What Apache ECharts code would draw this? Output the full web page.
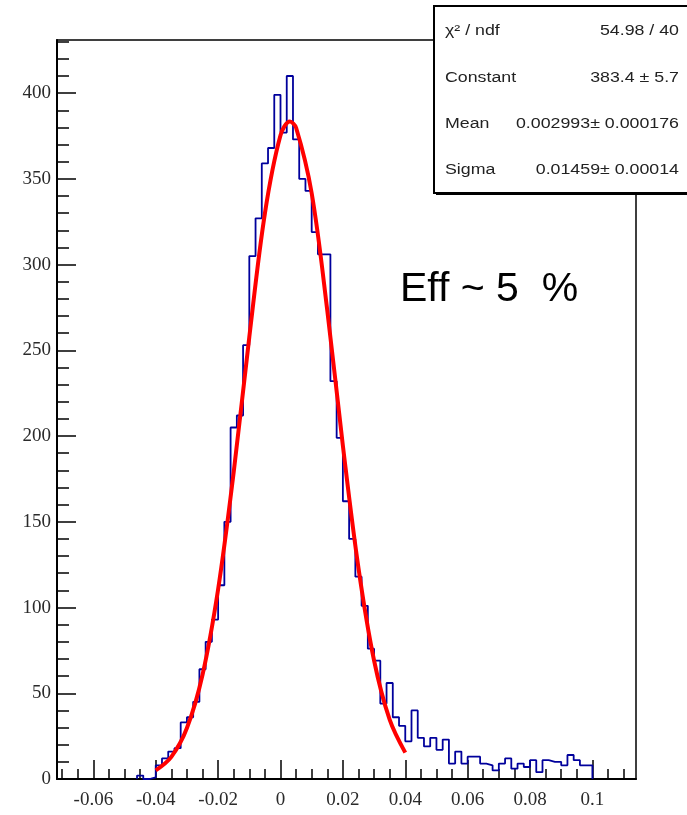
<!DOCTYPE html>
<html><head><meta charset="utf-8">
<script src="https://cdn.jsdelivr.net/npm/echarts@6/dist/echarts.min.js"></script>
<style>html,body{margin:0;padding:0;background:#fff}#c{width:687px;height:815px}</style>
</head><body><div id="c"></div>
<script>
// Histogram: bins of width 0.002 starting at -0.046 (low edge of first bin)
const histStart = -0.046;
const binWidth = 0.002;
const counts = [
  2, 0, 1, 8, 12, 16, 18, 33, 36, 45,
  64, 80, 93, 113, 150, 205, 212, 253, 305, 327,
  359, 368, 399, 377, 410, 373, 350, 343, 319, 306,
  306, 232, 199, 162, 140, 118, 101, 76, 69, 44,
  56, 36, 31, 22, 40, 24, 19, 24, 17, 23,
  9, 16, 9, 13, 13, 9, 8, 5, 9, 12,
  6, 9, 7, 11, 4, 11, 10, 10, 8, 14,
  11, 8, 8
];
// Gaussian fit curve
const fitX = [-0.04, -0.035, -0.03, -0.025, -0.02, -0.015, -0.01, -0.005, 0, 0.003, 0.005, 0.01, 0.015, 0.02, 0.025, 0.03, 0.035, 0.04];
const fitY = [5.0, 12.9, 29.7, 60.8, 110.7, 179.1, 257.8, 329.9, 375.4, 383.4, 379.8, 341.6, 273.3, 194.4, 123.0, 69.1, 34.6, 15.4];
// Axes
const xMajorTicks = [-0.06, -0.04, -0.02, 0, 0.02, 0.04, 0.06, 0.08, 0.1];
const xTickLabels = ['-0.06', '-0.04', '-0.02', '0', '0.02', '0.04', '0.06', '0.08', '0.1'];
const xMinorTicks = [-0.07, -0.065, -0.055, -0.05, -0.045, -0.035, -0.03, -0.025, -0.015, -0.01, -0.005, 0.005, 0.01, 0.015, 0.025, 0.03, 0.035, 0.045, 0.05, 0.055, 0.065, 0.07, 0.075, 0.085, 0.09, 0.095, 0.105, 0.11];
const yMajorTicks = [0, 50, 100, 150, 200, 250, 300, 350, 400];
const yMinorTicks = [10,20,30,40,60,70,80,90,110,120,130,140,160,170,180,190,210,220,230,240,260,270,280,290,310,320,330,340,360,370,380,390,410,420,430];
// Stats box
const statNames = ['χ² / ndf', 'Constant', 'Mean', 'Sigma'];
const statValues = ['54.98 / 40', '383.4 ± 5.7', '0.002993± 0.000176', '0.01459± 0.00014'];
const annotation = 'Eff ~ 5  %';

const X_MIN = -0.07166, X_MAX = 0.11398, Y_MIN = 0, Y_MAX = 431;

const histPts = [[histStart, 0]];
counts.forEach((c, i) => histPts.push([histStart + i * binWidth, c]));
histPts.push([histStart + counts.length * binWidth, counts[counts.length - 1]]);
histPts.push([histStart + counts.length * binWidth, 0]);
const fitPts = fitX.map((x, i) => [x, fitY[i]]);

const chart = echarts.init(document.getElementById('c'), null, {renderer: 'canvas'});
const labelFont = {fontFamily: 'Liberation Serif', fontSize: 19, color: '#2a2a2a'};

const statRowY = [31, 78, 124, 170];
const graphics = [
  {type: 'rect', z: 100, shape: {x: 434, y: 6, width: 262, height: 187}, style: {fill: '#fff', stroke: '#000', lineWidth: 2}},
  {type: 'rect', z: 101, shape: {x: 436, y: 192, width: 260, height: 3}, style: {fill: '#000'}}
];
statNames.forEach((n, i) => {
  graphics.push({type: 'text', z: 102, x: 445, y: statRowY[i], scaleX: 1.27,
    style: {text: n, font: '14px "Liberation Sans"', fill: '#222', textAlign: 'left', textVerticalAlign: 'middle'}});
  graphics.push({type: 'text', z: 102, x: 679, y: statRowY[i], scaleX: 1.27,
    style: {text: statValues[i], font: '14px "Liberation Sans"', fill: '#222', textAlign: 'right', textVerticalAlign: 'middle'}});
});
graphics.push({type: 'text', z: 102, x: 400, y: 290,
  style: {text: annotation, font: '41px "Liberation Sans"', fill: '#000', textAlign: 'left', textVerticalAlign: 'middle'}});

chart.setOption({
  animation: false,
  grid: {left: 57, top: 40, right: 51, bottom: 36, show: true, borderColor: '#000', borderWidth: 1.5, backgroundColor: 'transparent'},
  xAxis: [
    {type: 'value', min: X_MIN, max: X_MAX, position: 'bottom',
     axisLine: {show: true, onZero: false, lineStyle: {color: '#000', width: 2}},
     axisTick: {show: true, inside: true, length: 19, customValues: xMajorTicks, lineStyle: {color: '#000', width: 1.5}},
     axisLabel: Object.assign({show: true, customValues: xMajorTicks, margin: 12,
       formatter: v => { const k = xMajorTicks.findIndex(t => Math.abs(t - v) < 1e-9); return k >= 0 ? xTickLabels[k] : ''; }}, labelFont),
     splitLine: {show: false}},
    {type: 'value', min: X_MIN, max: X_MAX, position: 'bottom',
     axisLine: {show: false, onZero: false},
     axisTick: {show: true, inside: true, length: 10, customValues: xMinorTicks, lineStyle: {color: '#000', width: 1.5}},
     axisLabel: {show: false}, splitLine: {show: false}}
  ],
  yAxis: [
    {type: 'value', min: Y_MIN, max: Y_MAX, position: 'left',
     axisLine: {show: true, onZero: false, lineStyle: {color: '#000', width: 2}},
     axisTick: {show: true, inside: true, length: 19, customValues: yMajorTicks, lineStyle: {color: '#000', width: 1.5}},
     axisLabel: Object.assign({show: true, customValues: yMajorTicks, margin: 6, formatter: v => String(v)}, labelFont),
     splitLine: {show: false}},
    {type: 'value', min: Y_MIN, max: Y_MAX, position: 'left',
     axisLine: {show: false, onZero: false},
     axisTick: {show: true, inside: true, length: 12, customValues: yMinorTicks, lineStyle: {color: '#000', width: 1.5}},
     axisLabel: {show: false}, splitLine: {show: false}}
  ],
  series: [
    {type: 'line', xAxisIndex: 0, yAxisIndex: 0, data: histPts, step: 'end', showSymbol: false, symbol: 'none',
     lineStyle: {color: '#00009c', width: 1.8}, z: 2, silent: true},
    {type: 'line', xAxisIndex: 0, yAxisIndex: 0, data: fitPts, smooth: 0.35, showSymbol: false, symbol: 'none',
     lineStyle: {color: '#ff0000', width: 4}, z: 3, silent: true}
  ],
  graphic: graphics
});
</script>
</body></html>
